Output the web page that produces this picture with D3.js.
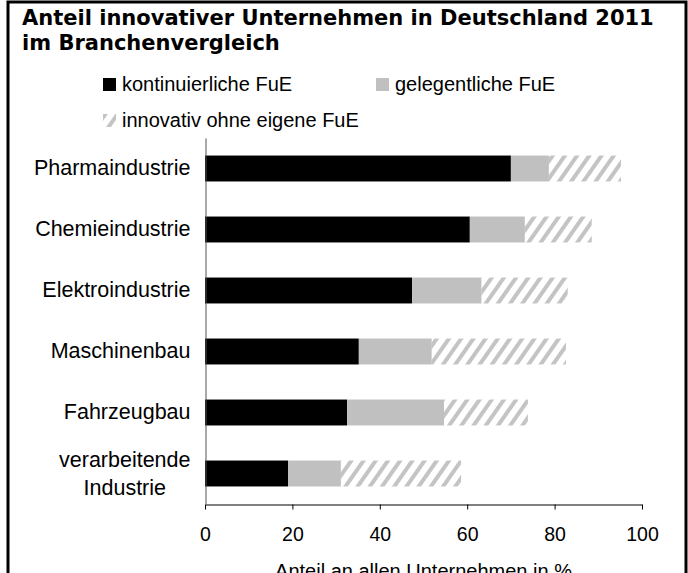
<!DOCTYPE html>
<html>
<head>
<meta charset="utf-8">
<script src="https://cdn.jsdelivr.net/npm/d3@7"></script>
<style>
  body { margin: 0; background: #fff; }
  text { font-family: "Liberation Sans", Arial, sans-serif; fill: #000; }
  .title { font-family: "DejaVu Sans", Verdana, sans-serif; font-weight: bold; font-size: 21px; }
</style>
</head>
<body>
<div id="chart"></div>
<script>
// data
var branchen = ["Pharmaindustrie", "Chemieindustrie", "Elektroindustrie", "Maschinenbau", "Fahrzeugbau", "verarbeitende Industrie"];
var kontinuierlich = [70.0, 60.6, 47.4, 35.2, 32.5, 19.0];
var gelegentlich = [8.7, 12.6, 15.9, 16.7, 22.2, 12.1];
var ohneFuE = [16.5, 15.3, 19.7, 30.7, 19.2, 27.5];
var seriesNames = ["kontinuierliche FuE", "gelegentliche FuE", "innovativ ohne eigene FuE"];
var xTicks = [0, 20, 40, 60, 80, 100];

var svgWidth = 688;
var svgHeight = 573;

var svg = d3.select("#chart")
  .append("svg")
  .attr("width", svgWidth)
  .attr("height", svgHeight);

// hatch pattern for the third series
var defs = svg.append("defs");
var hatch = defs.append("pattern")
  .attr("id", "hatch")
  .attr("patternUnits", "userSpaceOnUse")
  .attr("width", 10)
  .attr("height", 10)
  .attr("patternTransform", "rotate(35)");
hatch.append("rect").attr("width", 10).attr("height", 10).attr("fill", "#fff");
hatch.append("rect").attr("width", 4).attr("height", 10).attr("fill", "#c4c4c4");

var fills = ["#000", "#c0c0c0", "url(#hatch)"];

// frame
svg.append("path")
  .attr("d", "M8,573V2H686V573")
  .attr("fill", "none")
  .attr("stroke", "#000")
  .attr("stroke-width", 3);

// title
var title = svg.append("text").attr("class", "title").attr("x", 22).attr("y", 25);
title.append("tspan").attr("x", 22).text("Anteil innovativer Unternehmen in Deutschland 2011");
title.append("tspan").attr("x", 22).attr("y", 50).text("im Branchenvergleich");

// scales
var x = d3.scaleLinear().domain([0, 100]).range([205, 642]);
var y = d3.scaleBand()
  .domain(branchen)
  .range([138, 504])
  .paddingInner(0.575)
  .paddingOuter(0.2875);

// stack the three series
var rows = branchen.map(function (b, i) {
  return { name: b, k: kontinuierlich[i], g: gelegentlich[i], o: ohneFuE[i] };
});
var stacked = d3.stack().keys(["k", "g", "o"])(rows);

var barGroup = svg.append("g");
barGroup.selectAll("g")
  .data(stacked)
  .enter()
  .append("g")
  .attr("fill", function (d, i) { return fills[i]; })
  .selectAll("rect")
  .data(function (d) { return d; })
  .enter()
  .append("rect")
  .attr("x", function (d) { return x(d[0]); })
  .attr("width", function (d) { return x(d[1]) - x(d[0]); })
  .attr("y", function (d) { return y(d.data.name); })
  .attr("height", y.bandwidth());

// x axis
var xAxis = svg.append("g")
  .attr("transform", "translate(0," + 504.5 + ")")
  .call(d3.axisBottom(x).tickValues(xTicks).tickSize(5).tickPadding(18).tickSizeOuter(0));
xAxis.select(".domain").attr("stroke", "#000");
xAxis.selectAll("text").style("font-size", "19.5px").style("font-family", "Liberation Sans, Arial, sans-serif");

// y axis, category labels (two-line label centred under itself)
var yAxis = svg.append("g")
  .attr("transform", "translate(205.5,0)")
  .call(d3.axisLeft(y).tickSize(0).tickPadding(15).tickSizeOuter(0));
yAxis.select(".domain").attr("stroke", "#555");
yAxis.selectAll("text")
  .style("font-size", "21.5px")
  .style("font-family", "Liberation Sans, Arial, sans-serif")
  .each(function (d) {
    var words = d.split(" ");
    if (words.length < 2) return;
    var t = d3.select(this).text(null).attr("text-anchor", "middle");
    var first = t.append("tspan").attr("dy", "-0.3em").text(words[0]);
    var w = first.node().getComputedTextLength();
    first.attr("x", -15 - w / 2);
    t.append("tspan").attr("x", -15 - w / 2).attr("dy", "1.3em").text(words[1]);
  });

// axis title
svg.append("text")
  .attr("x", (x(0) + x(100)) / 2)
  .attr("y", 578)
  .attr("text-anchor", "middle")
  .style("font-size", "20px")
  .text("Anteil an allen Unternehmen in %");

// legend
var legendItems = [
  { name: seriesNames[0], fill: fills[0], x: 103, y: 78 },
  { name: seriesNames[1], fill: fills[1], x: 376, y: 78 },
  { name: seriesNames[2], fill: fills[2], x: 103, y: 114 }
];
var legend = svg.append("g");
var item = legend.selectAll("g")
  .data(legendItems)
  .enter()
  .append("g")
  .attr("transform", function (d) { return "translate(" + d.x + "," + d.y + ")"; });
item.append("rect")
  .attr("width", 13)
  .attr("height", 13)
  .attr("fill", function (d) { return d.fill; });
item.append("text")
  .attr("x", 19)
  .attr("y", 13)
  .style("font-size", "20px")
  .text(function (d) { return d.name; });
</script>
</body>
</html>
